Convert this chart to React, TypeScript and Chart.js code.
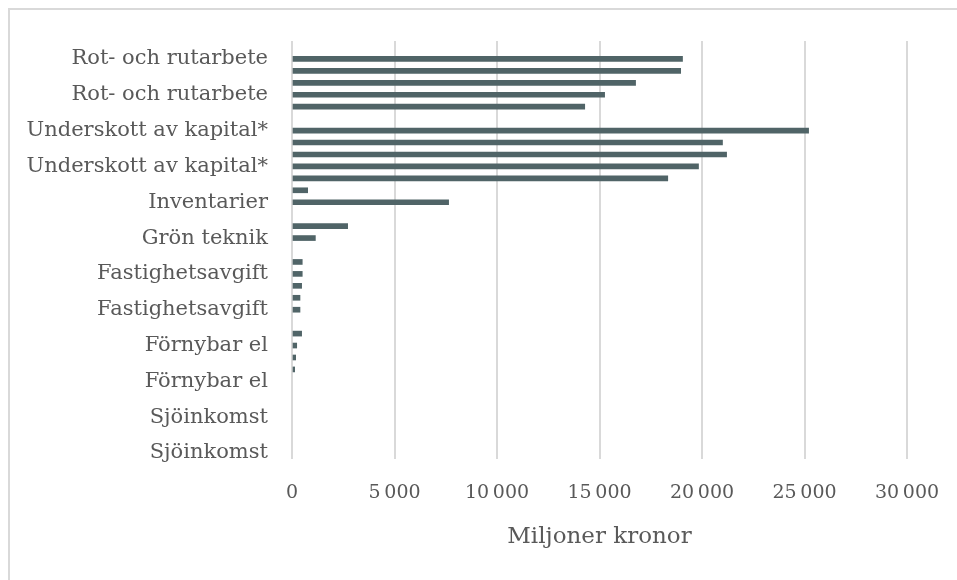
import React, { useEffect, useRef } from "react";
import { Chart, registerables } from "chart.js";

Chart.register(...registerables);

// Categories listed top-to-bottom (one slot per year; axis shows every third label)
const categories: string[] = [
  "Rot- och rutarbete", "Rot- och rutarbete", "Rot- och rutarbete", "Rot- och rutarbete", "Rot- och rutarbete", "Rot- och rutarbete",
  "Underskott av kapital*", "Underskott av kapital*", "Underskott av kapital*", "Underskott av kapital*", "Underskott av kapital*", "Underskott av kapital*",
  "Inventarier", "Inventarier", "Inventarier",
  "Grön teknik", "Grön teknik", "Grön teknik",
  "Fastighetsavgift", "Fastighetsavgift", "Fastighetsavgift", "Fastighetsavgift", "Fastighetsavgift", "Fastighetsavgift",
  "Förnybar el", "Förnybar el", "Förnybar el", "Förnybar el", "Förnybar el", "Förnybar el",
  "Sjöinkomst", "Sjöinkomst", "Sjöinkomst", "Sjöinkomst", "Sjöinkomst",
];

const values: (number | null)[] = [
  null, 19050, 18960, 16760, 15250, 14280,
  null, 25200, 21000, 21200, 19830, 18330,
  765, 7640, null,
  2715, 1140, null,
  500, 500, 470, 390, 390, null,
  470, 230, 180, 130, null, null,
  null, null, null, null, null,
];

const xMin = 0;
const xMax = 30000;
const xStep = 5000;
const xTitle = "Miljoner kronor";

const TEXT = "#595959";
const FONT = "'DejaVu Serif', serif";

export default function App() {
  const ref = useRef<HTMLCanvasElement | null>(null);

  useEffect(() => {
    if (!ref.current) return;
    const framePlugin = {
      id: "frame",
      beforeDraw(chart: any) {
        const ctx = chart.ctx;
        ctx.save();
        ctx.fillStyle = "#ffffff";
        ctx.fillRect(0, 0, chart.width, chart.height);
        ctx.strokeStyle = "#d9d9d9";
        ctx.lineWidth = 2;
        ctx.beginPath();
        ctx.moveTo(9, chart.height);
        ctx.lineTo(9, 9);
        ctx.lineTo(chart.width, 9);
        ctx.stroke();
        ctx.restore();
      },
    };
    const chart = new Chart(ref.current, {
      type: "bar",
      data: {
        labels: categories,
        datasets: [
          {
            data: values as any,
            backgroundColor: "#506467",
            barThickness: 5,
          },
        ],
      },
      options: {
        indexAxis: "y",
        animation: false,
        responsive: false,
        maintainAspectRatio: false,
        layout: { padding: { left: 0, top: 41, right: 50, bottom: 0 } },
        plugins: { legend: { display: false }, tooltip: { enabled: false } },
        scales: {
          x: {
            min: xMin,
            max: xMax,
            border: { display: false },
            grid: { color: "#d9d9d9", lineWidth: 2, drawTicks: false },
            ticks: {
              stepSize: xStep,
              padding: 23,
              color: TEXT,
              font: { family: FONT, size: 19 },
              callback: (v: any) => Number(v).toLocaleString("en-US").replace(/,/g, "\u202f"),
            },
            title: {
              display: true,
              text: xTitle,
              color: TEXT,
              font: { family: FONT, size: 23 },
              padding: { top: 0, bottom: 29 },
            },
            afterFit: (s: any) => {
              s.height = 121;
              s.paddingRight = 0;
              s.paddingLeft = 0;
            },
          },
          y: {
            border: { display: false },
            grid: { display: false },
            ticks: {
              autoSkip: false,
              padding: 16,
              color: TEXT,
              font: { family: FONT, size: 21 },
              callback: (_v: any, i: number) => (i % 3 === 1 ? categories[i] : ""),
            },
            afterFit: (s: any) => { s.width = 292; },
          },
        },
      },
      plugins: [framePlugin],
    });
    return () => chart.destroy();
  }, []);

  return (
    <div style={{ position: "absolute", left: 0, top: 0, width: 957, height: 580 }}>
      <canvas ref={ref} width={957} height={580} />
    </div>
  );
}
